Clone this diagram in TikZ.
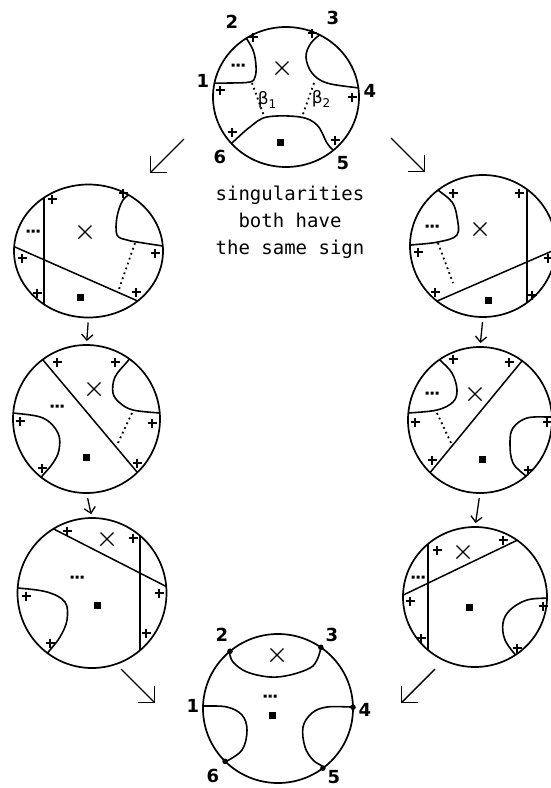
\documentclass[tikz,border=0pt]{standalone}
\usepackage{fontspec}
\usetikzlibrary{arrows.meta,shapes.geometric}
\newfontfamily\capfont{DejaVu Sans Mono}
\newfontfamily\numfont{DejaVu Sans}
\tikzset{
  disc/.style={draw, ellipse, line width=1.7pt, inner sep=0pt, outer sep=0pt},
  seam/.style={line width=1.6pt, smooth, tension=0.6},
  cut/.style={line width=1.5pt},
  dotline/.style={line width=1.8pt, dash pattern=on 1.8pt off 3.4pt},
  num/.style={font=\numfont\bfseries\fontsize{18}{18}\selectfont},
  betalab/.style={font=\numfont\fontsize{17}{17}\selectfont, inner sep=1pt},
  stepdown/.style={-{Straight Barb[angle=90:8pt]}, line width=1.3pt, shorten <=5pt, shorten >=4pt},
  move/.style={-{Straight Barb[angle=90:16pt]}, line width=1.4pt},
  plussign/.pic={\draw[line width=1.3pt] (-4.5,0) -- (4.5,0) (0,-4.5) -- (0,4.5);},
  crossmark/.pic={\draw[line width=1.2pt] (-6.5,-6.5) -- (6.5,6.5) (-6.5,6.5) -- (6.5,-6.5);},
  blacksq/.pic={\fill (-3.5,-3.5) rectangle (3.5,3.5);},
  tdots/.pic={\fill (-6.5,-1.5) rectangle ++(3,3) (-1.5,-1.5) rectangle ++(3,3) (3.5,-1.5) rectangle ++(3,3);},
}
\newcommand{\sub}[1]{\raisebox{-4pt}{\fontsize{12}{12}\selectfont #1}}

\begin{document}
\begin{tikzpicture}[x=1pt, y=-1pt]
  \useasboundingbox (0,0) rectangle (550,788);
  % the eight discs
  \node[disc, minimum width=146pt, minimum height=140pt] (top) at (286,97) {};
  \node[disc, minimum width=149pt, minimum height=133pt] (l1) at (88.5,251) {};
  \node[disc, minimum width=146pt, minimum height=142pt] (r1) at (483,246) {};
  \node[disc, minimum width=147pt, minimum height=148pt] (l2) at (86.5,419) {};
  \node[disc, minimum width=144pt, minimum height=146pt] (r2) at (480,420) {};
  \node[disc, minimum width=149pt, minimum height=150pt] (l3) at (92,593) {};
  \node[disc, minimum width=144pt, minimum height=140pt] (r3) at (475,597) {};
  \node[disc, minimum width=150pt, minimum height=149pt] (bot) at (278,708.5) {};

  % top disc
  \begin{scope}
    \clip (286,97) ellipse [x radius=73pt, y radius=70pt];
    \draw[seam] plot coordinates {(240,28) (243,33) (253,50) (256,66) (255,77) (250,82) (230,83) (208,83)};
    \draw[seam] plot coordinates {(326,28) (323,32) (311,43) (306,57) (312,73) (327,83) (359,88) (366,89)};
    \draw[seam] plot coordinates {(229,146) (233,142) (250,127) (267,117) (300,117) (317,125) (327,143) (333,150) (337,154)};
    \draw[dotline] (252,83) -- (264,116);
    \draw[dotline] (314,83) -- (302,117);
  \end{scope}
  \node[betalab] (beta1) at (267,100) {β\sub{1}};
  \node[betalab] (beta2) at (321,99) {β\sub{2}};
  \foreach \t/\x/\y in {1/203/81, 2/232/22, 3/333/18, 4/370/91, 5/343/163, 6/220/157}
    \node[num] (t\t) at (\x,\y) {\t};

  % left column
  \begin{scope}
    \clip (88.5,251) ellipse [x radius=74.5pt, y radius=66.5pt];
    \draw[cut] (44,180) -- (44,320);
    \draw[cut] (5,242.6) -- (150,306.4);
    \draw[seam] plot coordinates {(136,187) (133,192) (123,200) (117,217) (117,235) (127,240) (137,242) (163,246) (170,247)};
    \draw[dotline] (135,243) -- (118,292);
  \end{scope}
  \begin{scope}
    \clip (86.5,419) ellipse [x radius=73.5pt, y radius=74pt];
    \draw[cut] (35,350.5) -- (145,481.5);
    \draw[seam] plot coordinates {(131,357) (127,362) (115,377) (113,393) (120,403) (133,410) (160,413) (168,413)};
    \draw[dotline] (132,413) -- (117,445);
    \draw[seam] plot coordinates {(6,413) (13,413) (43,418) (58,433) (59,450) (53,463) (43,475) (38,481)};
  \end{scope}
  \begin{scope}
    \clip (92,593) ellipse [x radius=74.5pt, y radius=75pt];
    \draw[cut] (42,523) -- (177,592);
    \draw[cut] (140,515) -- (140,672);
    \draw[seam] plot coordinates {(10,588) (18,588) (47,592) (65,602) (67,620) (60,637) (50,650) (45,656)};
  \end{scope}

  % right column
  \begin{scope}
    \clip (483,246) ellipse [x radius=73pt, y radius=71pt];
    \draw[seam] plot coordinates {(434,186) (438,190) (452,202) (457,217) (457,235) (438,242) (411,245) (403,246)};
    \draw[dotline] (438,243) -- (453,283);
    \draw[cut] (527,170) -- (527,322);
    \draw[cut] (425,306.3) -- (562,246.7);
  \end{scope}
  \begin{scope}
    \clip (480,420) ellipse [x radius=72pt, y radius=73pt];
    \draw[seam] plot coordinates {(436,355) (440,360) (452,373) (457,390) (453,402) (437,410) (408,413) (400,413)};
    \draw[dotline] (437,413) -- (452,445);
    \draw[cut] (531,350) -- (424,480);
    \draw[seam] plot coordinates {(558,417) (550,417) (527,418) (513,428) (510,443) (513,463) (527,477) (532,482)};
  \end{scope}
  \begin{scope}
    \clip (475,597) ellipse [x radius=72pt, y radius=70pt];
    \draw[cut] (428,520) -- (428,672);
    \draw[cut] (393,600) -- (528,535);
    \draw[seam] plot coordinates {(558,598) (550,598) (527,600) (510,610) (503,623) (505,640) (517,657) (521,663)};
  \end{scope}

  % bottom disc
  \begin{scope}
    \clip (278,708.5) ellipse [x radius=75pt, y radius=74.5pt];
    \draw[seam] plot coordinates {(227,645) (229,651) (233,662) (247,672) (270,677) (290,675) (310,668) (317,660) (321,648) (322,643)};
    \draw[seam] plot coordinates {(198,706) (204,706) (227,707) (242,715) (247,730) (242,750) (224,763) (219,767)};
    \draw[seam] plot coordinates {(358,707) (352,707) (327,707) (312,713) (303,727) (305,747) (313,760) (322,766) (326,770)};
  \end{scope}
  \foreach \a in {130,55,1,307,225}
    \fill (bot.\a) circle (2.8pt);
  \foreach \t/\x/\y in {1/193/706, 2/222/635, 3/332/635, 4/365/710, 5/334/777, 6/213/776}
    \node[num] (b\t) at (\x,\y) {\t};

  % marks
  \foreach \x/\y in {253/37, 312/33, 220/90, 352/97, 232/132, 335/140,
      52/199, 123/193, 155/253, 22/258, 37/293, 136/292,
      57/362, 115/362, 20/421, 152/423, 42/468, 137/463,
      67/531, 133/538, 159/593, 26/596, 50/643, 146/633,
      453/193, 519/193, 418/252, 435/292, 532/295, 548/258,
      453/359, 509/362, 415/422, 432/460, 528/470, 547/422,
      437/550, 503/540, 410/601, 421/638, 543/606, 517/648}
    \pic at (\x,\y) {plussign};
  \foreach \x/\y in {282/68, 85/232, 94/389, 107/539, 480/229, 475/394, 463/552, 277/655}
    \pic at (\x,\y) {crossmark};
  \foreach \x/\y in {280/142, 80/297, 86/457, 97/605, 488/300, 482/459, 469/607, 272/715}
    \pic at (\x,\y) {blacksq};
  \foreach \x/\y in {238/65, 33/231, 57/406, 77/577, 432/226, 432/393, 418/577, 270/696}
    \pic at (\x,\y) {tdots};

  \node[align=center, font=\capfont\fontsize{19}{27}\selectfont] (note) at (290,222) {singularities\\both have\\the same sign};

  % moves
  \foreach \a/\b in {l1/l2, l2/l3, r1/r2, r2/r3} \draw[stepdown] (\a.south) -- (\b.north);
  \coordinate (tl0) at (184,139); \coordinate (tl1) at (150,173);
  \coordinate (tr0) at (391,138); \coordinate (tr1) at (425,172);
  \coordinate (bl0) at (121,669); \coordinate (bl1) at (155,703);
  \coordinate (br0) at (435,669); \coordinate (br1) at (401,703);
  \foreach \a/\b in {tl0/tl1, tr0/tr1, bl0/bl1, br0/br1} \draw[move] (\a) -- (\b);
\end{tikzpicture}
\end{document}
